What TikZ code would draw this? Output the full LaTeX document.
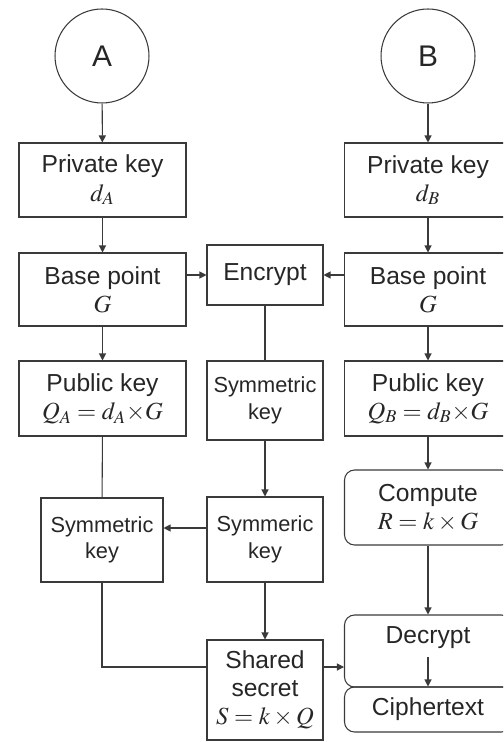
\documentclass[tikz,border=0pt]{standalone}
\usepackage{mathptmx}
\usepackage{fontspec}
\setmainfont{Liberation Sans}
\usepackage{tikz}
\usetikzlibrary{positioning, arrows.meta}
\definecolor{linegray}{HTML}{3a3a3a}

\begin{document}
\begin{tikzpicture}[
        x=0.02cm, y=-0.02cm,
        line width=0.6pt,
        every node/.style={text=black!85, align=center},
        party/.style={circle, draw=linegray, minimum size=1.88cm, inner sep=0pt, font=\fontsize{17}{20}\selectfont},
        keybox/.style={rectangle, draw=linegray, minimum width=3.34cm, minimum height=1.48cm, inner sep=0pt, font=\fontsize{14}{16}\selectfont},
        midbox/.style={rectangle, draw=linegray, minimum width=2.32cm, inner sep=0pt, font=\fontsize{12.4}{15}\selectfont},
        stepbox/.style={keybox, rounded corners=0.2cm},
        arr/.style={-{Triangle[length=1.4mm, width=1.4mm]}, draw=linegray},
        lnk/.style={draw=linegray}
    ]
        \clip (0,0) rectangle (503,742);

        % Parties
        \node[party] (A) at (102,56) {A};
        \node[party] (B) at (428,56) {B};

        % Key columns
        \node[keybox] (pkA) at (102.5,180) {Private key\\$d_A$};
        \node[keybox] (pkB) at (428,180) {Private key\\$d_B$};
        \node[keybox, minimum height=1.46cm] (baseA) at (102.5,289.5) {Base point\\$G$};
        \node[keybox, minimum height=1.46cm] (baseB) at (428,289.5) {Base point\\$G$};
        \node[keybox, minimum height=1.5cm] (pubA) at (102.5,398.5) {Public key\\$Q_A = d_A{\times}G$};
        \node[keybox, minimum height=1.5cm] (pubB) at (428,398.5) {Public key\\$Q_B = d_B{\times}G$};

        % Middle column
        \node[midbox, minimum height=1.2cm, font=\fontsize{14}{16}\selectfont] (encrypt) at (265,275) {Encrypt};
        \node[midbox, minimum height=1.58cm] (symMid) at (265,400.5) {Symmetric\\key};
        \node[midbox, minimum height=1.7cm] (symmeric) at (265,539.5) {Symmeric\\key};
        \node[midbox, minimum width=2.44cm, minimum height=1.68cm] (symLeft) at (102,540) {Symmetric\\key};
        \node[midbox, minimum height=2cm, font=\fontsize{14}{16}\selectfont] (shared) at (265,690) {Shared\\secret\\$S = k\times Q$};

        % Right column, rounded
        \node[stepbox, minimum height=1.5cm] (compute) at (428,507.5) {Compute\\$R = k\times G$};
        \node[stepbox, minimum height=0pt, text height=0.56cm, text depth=0.88cm] (decrypt) at (428,651) {Decrypt};
        \node[stepbox, minimum height=0.9cm] (cipher) at (428,709.5) {Ciphertext};

        % Arrows: down the columns
        \draw[arr] (A) -- (pkA);
        \draw[arr] (pkA) -- (baseA);
        \draw[arr] (baseA) -- (pubA);
        \draw[arr] (B) -- (pkB);
        \draw[arr] (pkB) -- (baseB);
        \draw[arr] (baseB) -- (pubB);
        \draw[arr] (pubB) -- (compute);
        \draw[arr] (compute) -- (decrypt);
        \draw[arr] ([yshift=-0.28cm]decrypt.base) -- (cipher.north);

        % Arrows: into encrypt
        \draw[arr] (baseA.east |- encrypt) -- (encrypt);
        \draw[arr] (baseB.west |- encrypt) -- (encrypt);

        % Symmetric key path
        \draw[lnk] (encrypt) -- (symMid);
        \draw[arr] (symMid) -- (symmeric);
        \draw[arr] ([yshift=0.23cm]symmeric.west) -- ([yshift=0.23cm]symmeric.west -| symLeft.east);
        \draw[lnk] (pubA) -- (symLeft);
        \draw[lnk] (symLeft.south) |- ([yshift=0.46cm]shared.west);
        \draw[arr] (symmeric) -- (shared);

        % Shared secret to decrypt
        \draw[arr] ([yshift=0.46cm]shared.east) -- ([yshift=0.46cm]shared.east -| decrypt.west);
    \end{tikzpicture}
\end{document}
